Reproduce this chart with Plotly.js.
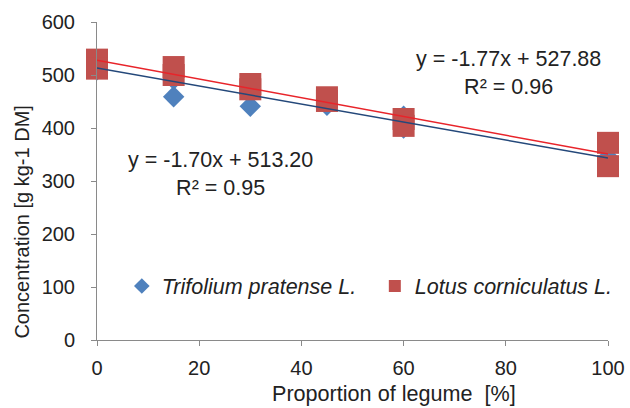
<!DOCTYPE html>
<html>
<head>
<meta charset="utf-8">
<script src="https://cdn.plot.ly/plotly-3.0.1.min.js"></script>
<style>html,body{margin:0;padding:0;background:#fff}#chart{width:630px;height:408px}</style>
</head>
<body>
<div id="chart"></div>
<script>
// Proportion of legume [%] (two replicates per level)
var legumeX = [0, 0, 15, 15, 30, 30, 45, 45, 60, 60, 100, 100];
// Trifolium pratense L. concentration [g kg-1 DM]
var trifoliumY = [518, 510, 459, 492, 441, 470, 443, 452, 422, 400, 345, 335];
// Lotus corniculatus L. concentration [g kg-1 DM]
var lotusY = [529, 512, 515, 500, 483, 473, 458, 451, 417, 404, 372, 328];

var seriesNames = ['Trifolium pratense L.', 'Lotus corniculatus L.'];
var trendSlope = [-1.70, -1.77];
var trendIntercept = [513.20, 527.88];
var trendR2 = [0.95, 0.96];
var trendRange = [0, 100];

var xTicks = [0, 20, 40, 60, 80, 100];
var yTicks = [0, 100, 200, 300, 400, 500, 600];

function lineY(i) { return trendRange.map(function (x) { return trendSlope[i] * x + trendIntercept[i]; }); }
function eqText(i) {
  var s = trendSlope[i] < 0 ? '-' : '';
  return 'y = ' + s + Math.abs(trendSlope[i]).toFixed(2) + 'x + ' + trendIntercept[i].toFixed(2) +
    '<br>R\u00b2 = ' + trendR2[i].toFixed(2);
}

var blue = '#4F81BD', red = '#C0504D';
var traces = [
  { x: legumeX, y: trifoliumY, name: seriesNames[0], legend: 'legend', type: 'scatter', mode: 'markers', cliponaxis: false,
    marker: { symbol: 'diamond', size: 16.5, color: blue } },
  { x: legumeX, y: lotusY, name: seriesNames[1], legend: 'legend2', type: 'scatter', mode: 'markers', cliponaxis: false,
    marker: { symbol: 'square', size: 22, color: red } },
  { x: trendRange, y: lineY(0), type: 'scatter', mode: 'lines', showlegend: false, hoverinfo: 'skip',
    line: { color: '#24487a', width: 1.5 } },
  { x: trendRange, y: lineY(1), type: 'scatter', mode: 'lines', showlegend: false, hoverinfo: 'skip',
    line: { color: '#e8242a', width: 1.5 } }
];

var fam = 'Liberation Sans, Arial, sans-serif';
var axisFont = { family: fam, size: 20, color: '#222' };
var legendFont = { family: fam, size: 21.5, color: '#222', style: 'italic' };
var plotH = 408 - 22 - 68;
function legendBox(px) {
  return { orientation: 'h', x: (px - 97) / 515, xanchor: 'left', y: (340 - 286) / plotH, yanchor: 'middle',
    bgcolor: 'rgba(0,0,0,0)', borderwidth: 0, itemsizing: 'constant', font: legendFont };
}
var layout = {
  width: 630, height: 408,
  margin: { l: 97, r: 18, t: 22, b: 68, pad: 0 },
  paper_bgcolor: '#fff', plot_bgcolor: '#fff',
  showlegend: true,
  font: axisFont,
  xaxis: {
    range: [0, 100], tickvals: xTicks, ticktext: xTicks.map(String),
    showgrid: false, zeroline: false, showline: true, linecolor: '#8a8a8a', linewidth: 1,
    ticks: 'outside', ticklen: 5, tickcolor: '#8a8a8a', tickfont: axisFont, ticklabelstandoff: 5
  },
  yaxis: {
    range: [0, 600], tickvals: yTicks, ticktext: yTicks.map(String),
    showgrid: false, zeroline: false, showline: true, linecolor: '#8a8a8a', linewidth: 1,
    ticks: 'outside', ticklen: 5, tickcolor: '#8a8a8a', tickfont: axisFont, ticklabelstandoff: 12
  },
  legend: legendBox(122),
  legend2: legendBox(377),
  annotations: [
    { text: eqText(1), xref: 'x', yref: 'y', x: 80.6, y: 503, showarrow: false, align: 'center',
      font: { family: fam, size: 21.5, color: '#222' } },
    { text: eqText(0), xref: 'x', yref: 'y', x: 24.2, y: 313, showarrow: false, align: 'center',
      font: { family: fam, size: 21.5, color: '#222' } },
    { text: 'Concentration [g kg-1 DM]', xref: 'paper', yref: 'paper', x: -76 / 515, y: (340 - 222) / plotH,
      xanchor: 'center', yanchor: 'middle', textangle: -90, showarrow: false,
      font: { family: fam, size: 20, color: '#222' } },
    { text: 'Proportion of legume  [%]', xref: 'paper', yref: 'paper', x: (396 - 97) / 515, y: -(393 - 340) / plotH,
      xanchor: 'center', yanchor: 'middle', showarrow: false,
      font: { family: fam, size: 21.6, color: '#222' } }
  ]
};

Plotly.newPlot('chart', traces, layout, { staticPlot: true, displayModeBar: false });
</script>
</body>
</html>
